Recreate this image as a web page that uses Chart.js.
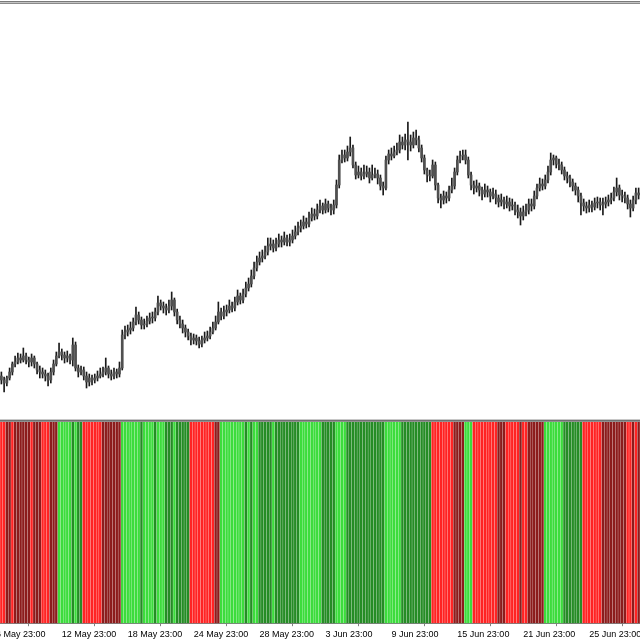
<!DOCTYPE html>
<html><head><meta charset="utf-8">
<script src="https://cdn.jsdelivr.net/npm/chart.js@4.4.0/dist/chart.umd.min.js"></script>
<style>
html,body{margin:0;padding:0;background:#fff;width:640px;height:640px;overflow:hidden;position:relative}
.ln{position:absolute;left:0;width:640px;height:1px}
#top{position:absolute;left:0;top:4px}
#bot{position:absolute;left:0;top:422px}
</style></head>
<body>
<div class="ln" style="top:1px;background:#7a7a7a"></div>
<div class="ln" style="top:2px;background:#c4c4c4"></div>
<div class="ln" style="top:3px;background:#8a8a8a"></div>
<canvas id="top" width="640" height="414"></canvas>
<div class="ln" style="top:419px;background:#c8c8c8"></div>
<div class="ln" style="top:420px;background:#707070"></div>
<div class="ln" style="top:421px;background:#909090"></div>
<canvas id="bot" width="640" height="221"></canvas>
<script>
const open = [1.2124,1.2120,1.2117,1.2122,1.2128,1.2136,1.2138,1.2142,1.2140,1.2144,
 1.2140,1.2138,1.2142,1.2136,1.2130,1.2128,1.2126,1.2124,1.2120,1.2128,
 1.2136,1.2144,1.2148,1.2145,1.2142,1.2144,1.2140,1.2155,1.2132,1.2128,
 1.2130,1.2124,1.2118,1.2122,1.2120,1.2122,1.2124,1.2126,1.2128,1.2132,
 1.2126,1.2124,1.2128,1.2126,1.2132,1.2165,1.2168,1.2170,1.2172,1.2178,
 1.2185,1.2180,1.2175,1.2176,1.2179,1.2182,1.2182,1.2188,1.2197,1.2194,
 1.2192,1.2190,1.2194,1.2200,1.2188,1.2180,1.2176,1.2172,1.2168,1.2164,
 1.2160,1.2162,1.2159,1.2156,1.2160,1.2162,1.2164,1.2168,1.2172,1.2178,
 1.2188,1.2184,1.2188,1.2190,1.2194,1.2192,1.2198,1.2204,1.2200,1.2206,
 1.2212,1.2216,1.2224,1.2232,1.2238,1.2242,1.2244,1.2248,1.2254,1.2256,
 1.2252,1.2256,1.2260,1.2258,1.2262,1.2258,1.2260,1.2264,1.2268,1.2272,
 1.2274,1.2278,1.2276,1.2282,1.2286,1.2284,1.2290,1.2294,1.2290,1.2296,
 1.2292,1.2290,1.2295,1.2315,1.2340,1.2345,1.2342,1.2348,1.2352,1.2335,
 1.2325,1.2328,1.2324,1.2326,1.2328,1.2322,1.2325,1.2326,1.2322,1.2314,
 1.2312,1.2340,1.2346,1.2344,1.2348,1.2350,1.2358,1.2355,1.2360,1.2358,
 1.2355,1.2362,1.2360,1.2352,1.2342,1.2330,1.2325,1.2324,1.2335,1.2315,
 1.2302,1.2300,1.2304,1.2302,1.2310,1.2314,1.2328,1.2340,1.2344,1.2345,
 1.2340,1.2325,1.2315,1.2312,1.2314,1.2310,1.2306,1.2310,1.2308,1.2304,
 1.2306,1.2302,1.2298,1.2300,1.2296,1.2298,1.2294,1.2295,1.2290,1.2288,
 1.2284,1.2288,1.2290,1.2296,1.2294,1.2304,1.2312,1.2316,1.2314,1.2320,
 1.2328,1.2340,1.2342,1.2336,1.2335,1.2330,1.2324,1.2322,1.2318,1.2314,
 1.2310,1.2304,1.2297,1.2294,1.2292,1.2295,1.2293,1.2297,1.2298,1.2295,
 1.2296,1.2298,1.2300,1.2302,1.2308,1.2312,1.2305,1.2304,1.2302,1.2296,
 1.2292,1.2300,1.2307];
const close = [1.2120,1.2117,1.2122,1.2128,1.2136,1.2138,1.2142,1.2140,1.2144,1.2140,
 1.2138,1.2142,1.2136,1.2130,1.2128,1.2126,1.2124,1.2120,1.2128,1.2136,
 1.2144,1.2148,1.2145,1.2142,1.2144,1.2140,1.2155,1.2132,1.2128,1.2130,
 1.2124,1.2118,1.2122,1.2120,1.2122,1.2124,1.2126,1.2128,1.2132,1.2126,
 1.2124,1.2128,1.2126,1.2132,1.2165,1.2168,1.2170,1.2172,1.2178,1.2185,
 1.2180,1.2175,1.2176,1.2179,1.2182,1.2182,1.2188,1.2197,1.2194,1.2192,
 1.2190,1.2194,1.2200,1.2188,1.2180,1.2176,1.2172,1.2168,1.2164,1.2160,
 1.2162,1.2159,1.2156,1.2160,1.2162,1.2164,1.2168,1.2172,1.2178,1.2188,
 1.2184,1.2188,1.2190,1.2194,1.2192,1.2198,1.2204,1.2200,1.2206,1.2212,
 1.2216,1.2224,1.2232,1.2238,1.2242,1.2244,1.2248,1.2254,1.2256,1.2252,
 1.2256,1.2260,1.2258,1.2262,1.2258,1.2260,1.2264,1.2268,1.2272,1.2274,
 1.2278,1.2276,1.2282,1.2286,1.2284,1.2290,1.2294,1.2290,1.2296,1.2292,
 1.2290,1.2295,1.2315,1.2340,1.2345,1.2342,1.2348,1.2352,1.2335,1.2325,
 1.2328,1.2324,1.2326,1.2328,1.2322,1.2325,1.2326,1.2322,1.2314,1.2312,
 1.2340,1.2346,1.2344,1.2348,1.2350,1.2358,1.2355,1.2360,1.2358,1.2355,
 1.2362,1.2360,1.2352,1.2342,1.2330,1.2325,1.2324,1.2335,1.2315,1.2302,
 1.2300,1.2304,1.2302,1.2310,1.2314,1.2328,1.2340,1.2344,1.2345,1.2340,
 1.2325,1.2315,1.2312,1.2314,1.2310,1.2306,1.2310,1.2308,1.2304,1.2306,
 1.2302,1.2298,1.2300,1.2296,1.2298,1.2294,1.2295,1.2290,1.2288,1.2284,
 1.2288,1.2290,1.2296,1.2294,1.2304,1.2312,1.2316,1.2314,1.2320,1.2328,
 1.2340,1.2342,1.2336,1.2335,1.2330,1.2324,1.2322,1.2318,1.2314,1.2310,
 1.2304,1.2297,1.2294,1.2292,1.2295,1.2293,1.2297,1.2298,1.2295,1.2296,
 1.2298,1.2300,1.2302,1.2308,1.2312,1.2305,1.2304,1.2302,1.2296,1.2292,
 1.2300,1.2307,1.2305];
const high = [1.2128,1.2123,1.2124,1.2132,1.2138,1.2144,1.2147,1.2146,1.2152,1.2147,
 1.2143,1.2146,1.2144,1.2138,1.2134,1.2132,1.2130,1.2127,1.2132,1.2140,
 1.2148,1.2157,1.2151,1.2148,1.2149,1.2146,1.2162,1.2158,1.2135,1.2134,
 1.2133,1.2128,1.2126,1.2125,1.2126,1.2129,1.2132,1.2133,1.2142,1.2134,
 1.2130,1.2132,1.2131,1.2138,1.2170,1.2174,1.2175,1.2178,1.2182,1.2193,
 1.2188,1.2183,1.2181,1.2184,1.2187,1.2188,1.2192,1.2204,1.2200,1.2198,
 1.2196,1.2200,1.2208,1.2202,1.2191,1.2184,1.2180,1.2175,1.2171,1.2167,
 1.2166,1.2165,1.2163,1.2164,1.2168,1.2169,1.2173,1.2178,1.2184,1.2198,
 1.2192,1.2194,1.2195,1.2200,1.2198,1.2203,1.2210,1.2207,1.2211,1.2218,
 1.2222,1.2230,1.2238,1.2244,1.2248,1.2250,1.2254,1.2262,1.2262,1.2260,
 1.2262,1.2266,1.2264,1.2268,1.2265,1.2266,1.2270,1.2274,1.2278,1.2280,
 1.2284,1.2282,1.2288,1.2292,1.2291,1.2296,1.2300,1.2297,1.2301,1.2299,
 1.2296,1.2300,1.2320,1.2345,1.2350,1.2350,1.2354,1.2363,1.2355,1.2338,
 1.2334,1.2332,1.2335,1.2334,1.2332,1.2335,1.2332,1.2330,1.2325,1.2318,
 1.2344,1.2350,1.2352,1.2354,1.2357,1.2365,1.2363,1.2366,1.2378,1.2365,
 1.2368,1.2370,1.2364,1.2355,1.2345,1.2332,1.2330,1.2340,1.2338,1.2317,
 1.2306,1.2309,1.2308,1.2314,1.2322,1.2332,1.2344,1.2349,1.2350,1.2350,
 1.2343,1.2328,1.2319,1.2320,1.2317,1.2313,1.2316,1.2314,1.2311,1.2312,
 1.2310,1.2305,1.2306,1.2303,1.2304,1.2302,1.2301,1.2298,1.2295,1.2292,
 1.2294,1.2296,1.2301,1.2301,1.2309,1.2316,1.2322,1.2321,1.2325,1.2334,
 1.2347,1.2345,1.2344,1.2341,1.2338,1.2333,1.2328,1.2325,1.2321,1.2317,
 1.2313,1.2307,1.2301,1.2298,1.2300,1.2299,1.2302,1.2303,1.2302,1.2302,
 1.2303,1.2305,1.2307,1.2313,1.2322,1.2315,1.2310,1.2308,1.2305,1.2300,
 1.2304,1.2312,1.2312];
const low = [1.2116,1.2108,1.2114,1.2120,1.2125,1.2133,1.2136,1.2137,1.2138,1.2136,
 1.2133,1.2134,1.2132,1.2126,1.2122,1.2122,1.2119,1.2114,1.2117,1.2125,
 1.2134,1.2142,1.2140,1.2137,1.2138,1.2136,1.2134,1.2129,1.2123,1.2125,
 1.2120,1.2112,1.2114,1.2115,1.2117,1.2119,1.2122,1.2123,1.2125,1.2122,
 1.2120,1.2121,1.2122,1.2123,1.2130,1.2161,1.2164,1.2166,1.2169,1.2175,
 1.2176,1.2171,1.2171,1.2173,1.2176,1.2177,1.2179,1.2185,1.2190,1.2187,
 1.2185,1.2187,1.2190,1.2184,1.2176,1.2172,1.2167,1.2163,1.2160,1.2155,
 1.2156,1.2155,1.2152,1.2153,1.2157,1.2159,1.2161,1.2166,1.2170,1.2176,
 1.2180,1.2181,1.2184,1.2187,1.2188,1.2189,1.2195,1.2196,1.2197,1.2203,
 1.2209,1.2213,1.2221,1.2229,1.2235,1.2238,1.2241,1.2245,1.2250,1.2248,
 1.2249,1.2253,1.2253,1.2255,1.2254,1.2254,1.2257,1.2261,1.2265,1.2268,
 1.2271,1.2272,1.2273,1.2279,1.2280,1.2281,1.2287,1.2286,1.2287,1.2288,
 1.2285,1.2286,1.2292,1.2312,1.2337,1.2338,1.2339,1.2344,1.2332,1.2321,
 1.2322,1.2320,1.2321,1.2323,1.2317,1.2320,1.2322,1.2316,1.2310,1.2305,
 1.2310,1.2336,1.2340,1.2342,1.2345,1.2347,1.2351,1.2350,1.2340,1.2349,
 1.2352,1.2355,1.2348,1.2338,1.2326,1.2318,1.2319,1.2322,1.2310,1.2297,
 1.2292,1.2296,1.2297,1.2299,1.2307,1.2311,1.2325,1.2337,1.2340,1.2336,
 1.2322,1.2310,1.2306,1.2308,1.2304,1.2300,1.2303,1.2303,1.2298,1.2301,
 1.2296,1.2293,1.2294,1.2291,1.2292,1.2289,1.2290,1.2285,1.2282,1.2275,
 1.2280,1.2284,1.2286,1.2289,1.2291,1.2301,1.2309,1.2310,1.2311,1.2317,
 1.2325,1.2335,1.2332,1.2330,1.2326,1.2320,1.2317,1.2313,1.2309,1.2305,
 1.2298,1.2285,1.2289,1.2287,1.2288,1.2288,1.2290,1.2292,1.2290,1.2285,
 1.2292,1.2294,1.2296,1.2299,1.2304,1.2300,1.2298,1.2297,1.2291,1.2283,
 1.2289,1.2296,1.2301];
// histogram state per bar: R = strong down, r = weak down, G = strong up, g = weak up
const signalSegments = ["RR","rrRrrrrrrRrrr","RRR","rrr","GGGGG","gGgg","RRRRRRR","rrrrrrr",
 "GGGGGGGgGGGGgGGG","gggGggggg","RRRRRRRRR","rr","GGGGGGGGG","gGgGGg","ggggGggggggggg",
 "GGGGGGGG","ggggg","GGGG","gggggggggggggg","GGGGGG","ggggggggggg","RRRRRRRR","rrrr","GGG",
 "RRRRRRRRR","rrr","RRRR","RrRRr","rrrrr","GGGGGGG","ggggggg","RRRRRRR","rrrrrrrrr","RRrRr"];
const signal = signalSegments.join('').split('');
const signalColors = {R:'#ff2323', r:'#8c1c1c', G:'#3cdc3c', g:'#258c25'};
const tickLabels = ['6 May 23:00','12 May 23:00','18 May 23:00','24 May 23:00','28 May 23:00',
 '3 Jun 23:00','9 Jun 23:00','15 Jun 23:00','21 Jun 23:00','25 Jun 23:00'];
const tickBars = [-2,22,46,70,94,118,142,166,190,214];

const N = open.length;
const wick = open.map((_, i) => ({x: i, y: [low[i], high[i]]}));
const body = open.map((_, i) => ({x: i, y: [open[i], close[i]]}));
const hist = signal.map((s, i) => ({x: i, y: 1}));

const xRange = {type:'linear', min:-0.5, max:N-0.5, offset:false};

new Chart(document.getElementById('top'), {
  type: 'bar',
  data: {datasets: [
    {data: wick, backgroundColor:'#1a1a1a', barThickness:1, grouped:false, order:1},
    {data: body, backgroundColor:'#505050', barThickness:2, grouped:false, minBarLength:1, order:0}
  ]},
  options: {
    responsive:false, animation:false, devicePixelRatio:1,
    layout:{padding:0},
    plugins:{legend:{display:false}, tooltip:{enabled:false}},
    scales:{
      x: Object.assign({}, xRange, {display:false}),
      y: {min:1.2082, max:1.2496, display:false}
    }
  }
});

new Chart(document.getElementById('bot'), {
  type: 'bar',
  data: {datasets: [
    {data: hist, backgroundColor: signal.map(s => signalColors[s]), barThickness:1.8, grouped:false}
  ]},
  options: {
    responsive:false, animation:false, devicePixelRatio:1,
    layout:{padding:{left:0,right:0,top:0,bottom:0}},
    plugins:{legend:{display:false}, tooltip:{enabled:false}},
    scales:{
      x: Object.assign({}, xRange, {
        afterBuildTicks: s => { s.ticks = tickBars.map(v => ({value:v})); },
        afterFit: s => { s.paddingLeft = 0; s.paddingRight = 0; },
        ticks:{autoSkip:false, maxRotation:0, minRotation:0, align:'start', padding:3, color:'#000',
          font:{family:'Liberation Sans', size:9},
          callback: v => { const k = tickBars.indexOf(v); return k >= 0 ? tickLabels[k] : ''; }},
        grid:{drawOnChartArea:false, drawTicks:true, tickLength:3, color:'#808080'},
        border:{color:'#808080', width:1}
      }),
      y: {min:0, max:1, display:false}
    }
  }
});
</script>
</body></html>
